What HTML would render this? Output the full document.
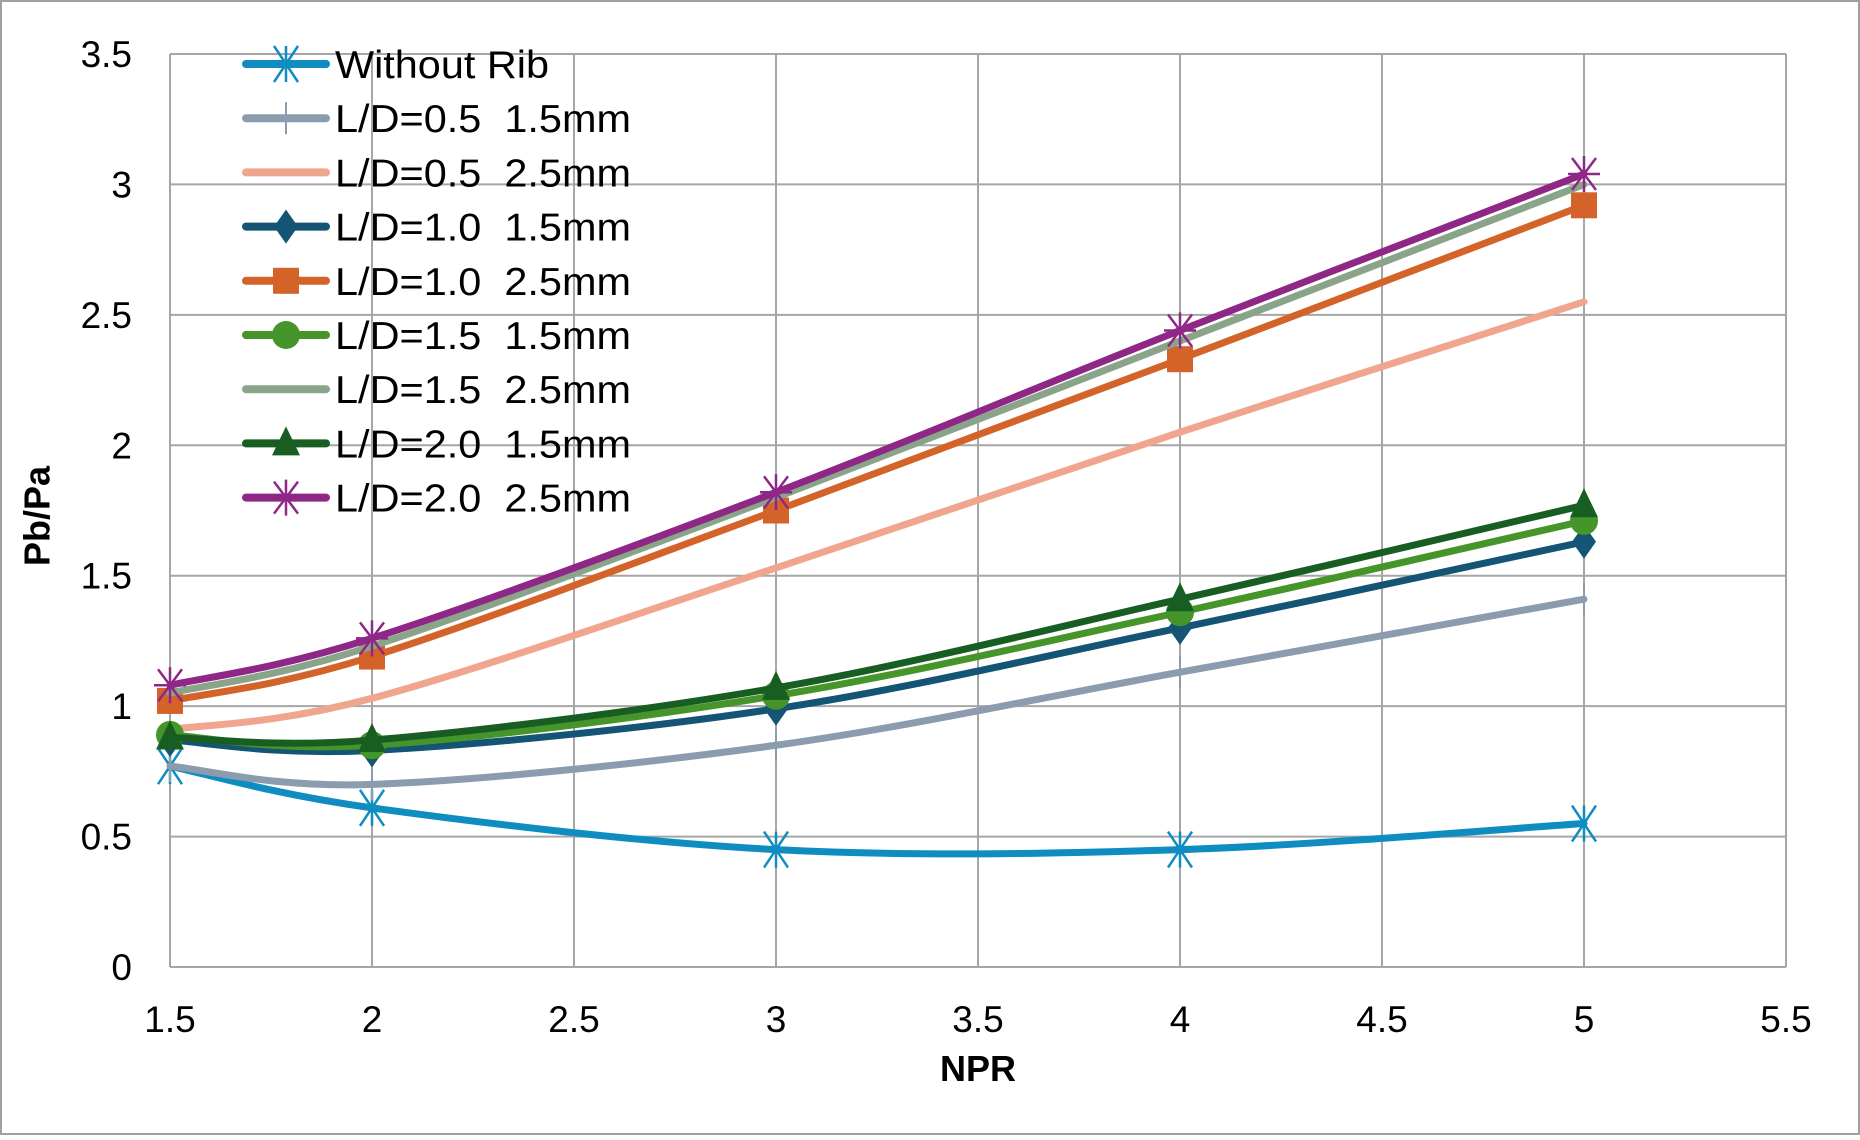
<!DOCTYPE html>
<html><head><meta charset="utf-8"><style>
html,body{margin:0;padding:0;background:#fff}
svg text{font-family:"Liberation Sans",Arial,sans-serif}
</style></head><body>
<svg id="c" width="1860" height="1135" viewBox="0 0 1860 1135" xmlns="http://www.w3.org/2000/svg">
<rect x="1" y="1" width="1858" height="1133" fill="#fff" stroke="#a0a0a0" stroke-width="2"/>
<g id="grid"></g>
<g id="series"></g>
<g id="legend"></g>
<text x="40" y="516" transform="rotate(-90 40 516)" text-anchor="middle" dominant-baseline="middle" font-size="36" font-weight="bold">Pb/Pa</text>
<text x="978" y="1081" text-anchor="middle" font-size="36" font-weight="bold">NPR</text>
</svg>
<script>
const NS="http://www.w3.org/2000/svg";
const X0=170,X1=1786,Y0=967,Y1=54;
const px=v=>X0+(v-1.5)/4*(X1-X0);
const py=v=>Y0-v/3.5*(Y0-Y1);
function el(t,a,p,txt){const e=document.createElementNS(NS,t);for(const k in a)e.setAttribute(k,a[k]);if(txt!==undefined)e.textContent=txt;p.appendChild(e);return e;}
const g=document.getElementById('grid');
for(let i=0;i<=8;i++){const v=1.5+i*0.5,x=px(v);
 el('line',{x1:x,y1:Y1,x2:x,y2:Y0,stroke:'#a6a6a6','stroke-width':2},g);
 el('text',{x:x,y:1032,'text-anchor':'middle','font-size':37},g,String(v));}
for(let i=0;i<=7;i++){const v=i*0.5,y=py(v);
 el('line',{x1:X0,y1:y,x2:X1,y2:y,stroke:'#a6a6a6','stroke-width':2},g);
 el('text',{x:132,y:y+13,'text-anchor':'end','font-size':37},g,String(v));}
const xs=[1.5,2,3,4,5];
const S=[
 ['Without Rib','#0f8cc0','x',[0.77,0.61,0.45,0.45,0.55]],
 ['L/D=0.5\u00a0\u00a01.5mm','#8a9cad','plus',[0.77,0.70,0.85,1.13,1.41]],
 ['L/D=0.5\u00a0\u00a02.5mm','#f0a58e','none',[0.91,1.03,1.53,2.05,2.55]],
 ['L/D=1.0\u00a0\u00a01.5mm','#145474','diamond',[0.87,0.83,0.99,1.30,1.63]],
 ['L/D=1.0\u00a0\u00a02.5mm','#d4632a','square',[1.02,1.19,1.75,2.33,2.92]],
 ['L/D=1.5\u00a0\u00a01.5mm','#46952a','circle',[0.89,0.85,1.04,1.36,1.71]],
 ['L/D=1.5\u00a0\u00a02.5mm','#8aa48a','none',[1.05,1.23,1.80,2.40,3.00]],
 ['L/D=2.0\u00a0\u00a01.5mm','#185e22','tri',[0.88,0.87,1.07,1.41,1.77]],
 ['L/D=2.0\u00a0\u00a02.5mm','#8e2786','star',[1.08,1.26,1.82,2.44,3.04]]];
function path(pts){let d=`M${pts[0][0]},${pts[0][1]}`;
 for(let i=0;i<pts.length-1;i++){const p0=pts[i-1]||pts[i],p1=pts[i],p2=pts[i+1],p3=pts[i+2]||p2;const t=6;
  d+=` C${p1[0]+(p2[0]-p0[0])/t},${p1[1]+(p2[1]-p0[1])/t} ${p2[0]-(p3[0]-p1[0])/t},${p2[1]-(p3[1]-p1[1])/t} ${p2[0]},${p2[1]}`;}
 return d;}
function marker(type,x,y,c,p){
 switch(type){
 case 'x':el('path',{d:`M${x-12},${y-18}L${x+12},${y+18}M${x+12},${y-18}L${x-12},${y+18}M${x},${y-18}L${x},${y+18}`,stroke:c,'stroke-width':2.5,fill:'none'},p);break;
 case 'plus':el('path',{d:`M${x},${y-16}L${x},${y+16}`,stroke:c,'stroke-width':2,fill:'none'},p);break;
 case 'diamond':el('path',{d:`M${x},${y-17}L${x+12},${y}L${x},${y+17}L${x-12},${y}Z`,fill:c},p);break;
 case 'square':el('rect',{x:x-13,y:y-13,width:26,height:26,fill:c},p);break;
 case 'circle':el('circle',{cx:x,cy:y,r:14,fill:c},p);break;
 case 'tri':el('path',{d:`M${x},${y-17}L${x+14},${y+12}L${x-14},${y+12}Z`,fill:c},p);break;
 case 'star':el('path',{d:`M${x-12},${y-16}L${x+12},${y+16}M${x+12},${y-16}L${x-12},${y+16}M${x},${y-18}L${x},${y+18}M${x-16},${y}L${x+16},${y}`,stroke:c,'stroke-width':2.5,fill:'none'},p);break;}}
const sg=document.getElementById('series'),lg=document.getElementById('legend');
S.forEach((s,i)=>{const pts=xs.map((x,j)=>[px(x),py(s[3][j])]);
 el('path',{d:path(pts),stroke:s[1],'stroke-width':7,fill:'none','stroke-linecap':'round'},sg);
 pts.forEach(p=>marker(s[2],p[0],p[1],s[1],sg));
 const y=64+i*54.2;
 el('line',{x1:246,y1:y,x2:326,y2:y,stroke:s[1],'stroke-width':8,'stroke-linecap':'round'},lg);
 marker(s[2],286,y,s[1],lg);
 el('text',{x:335,y:y+14,'font-size':39,textLength:s[0]==='Without Rib'?214:296,lengthAdjust:'spacingAndGlyphs'},lg,s[0]);});
</script>
</body></html>
